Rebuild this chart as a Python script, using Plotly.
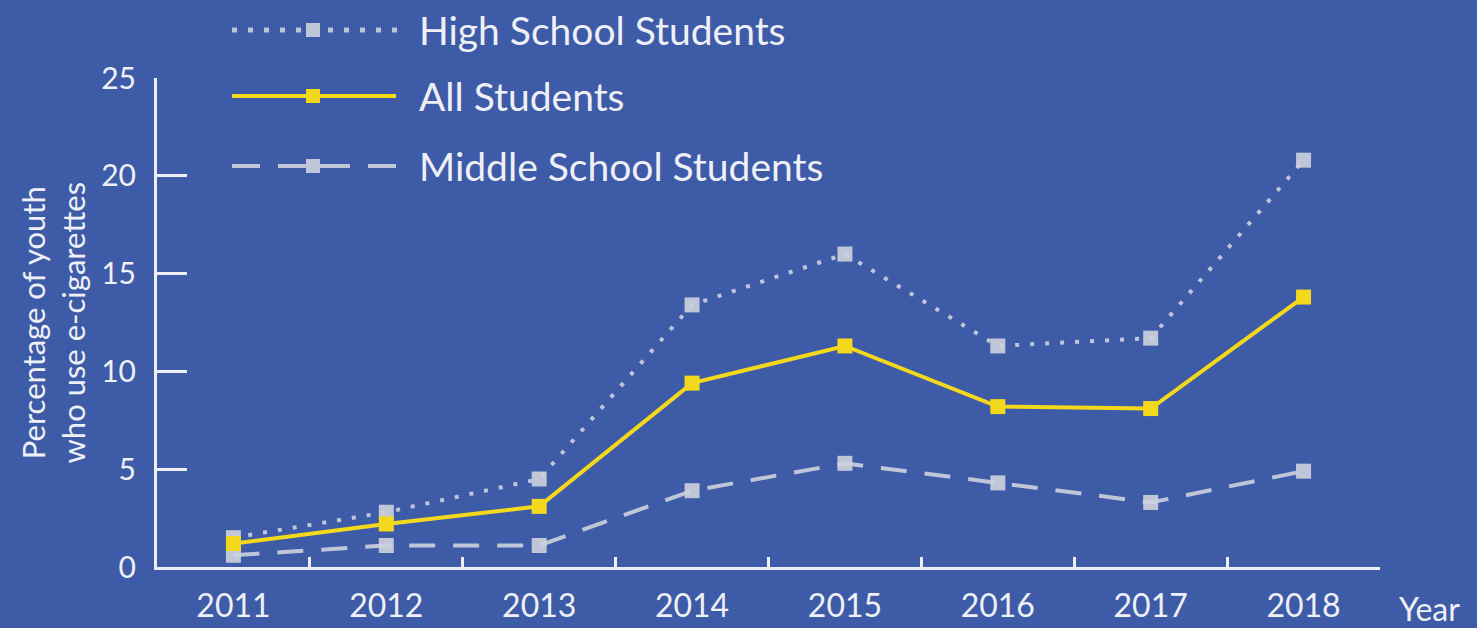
import plotly.graph_objects as go

years = ["2011", "2012", "2013", "2014", "2015", "2016", "2017", "2018"]
high_school = [1.5, 2.8, 4.5, 13.4, 16.0, 11.3, 11.7, 20.8]
all_students = [1.2, 2.2, 3.1, 9.4, 11.3, 8.2, 8.1, 13.8]
middle_school = [0.6, 1.1, 1.1, 3.9, 5.3, 4.3, 3.3, 4.9]
y_ticks = [0, 5, 10, 15, 20, 25]

W, H = 1477, 628
L, R, T, B = 157, 97, 78, 61
BG = "#3e5ba7"
INK = "#eef0f6"
GREY = "rgba(205,210,222,0.9)"
YELLOW = "#f4d81c"
FONT = "Lato, 'Open Sans', sans-serif"


def px(x):
    return (x - L) / (W - L - R)


def py(y):
    return (H - B - y) / (H - T - B)


fig = go.Figure()
fig.add_trace(go.Scatter(
    x=years, y=high_school, mode="lines+markers", name="High School Students",
    line=dict(color=GREY, width=4, dash="4px,11px"),
    marker=dict(symbol="square", size=15, color=GREY),
))
fig.add_trace(go.Scatter(
    x=years, y=middle_school, mode="lines+markers", name="Middle School Students",
    line=dict(color=GREY, width=4, dash="26px,18px"),
    marker=dict(symbol="square", size=15, color=GREY),
))
fig.add_trace(go.Scatter(
    x=years, y=all_students, mode="lines+markers", name="All Students",
    line=dict(color=YELLOW, width=4),
    marker=dict(symbol="square", size=15, color=YELLOW),
))

# Legend drawn by hand: long sample lines with a square in the middle
legend_rows = [
    ("High School Students", 30, GREY, "dot"),
    ("All Students", 96, YELLOW, "solid"),
    ("Middle School Students", 166, GREY, "dash"),
]
shapes = []
annotations = []
for label, yy, col, style in legend_rows:
    if style == "dot":
        x = 232
        while x < 396:
            if abs(x - 313) > 12:
                shapes.append(dict(type="rect", xref="paper", yref="paper",
                                   x0=px(x), x1=px(x + 5), y0=py(yy + 2.5), y1=py(yy - 2.5),
                                   fillcolor=col, line=dict(width=0)))
            x += 16
    elif style == "dash":
        for x0, x1 in [(232, 260), (278, 306), (320, 350), (368, 396)]:
            shapes.append(dict(type="line", xref="paper", yref="paper",
                               x0=px(x0), x1=px(x1), y0=py(yy), y1=py(yy),
                               line=dict(color=col, width=4)))
    else:
        shapes.append(dict(type="line", xref="paper", yref="paper",
                           x0=px(232), x1=px(396), y0=py(yy), y1=py(yy),
                           line=dict(color=col, width=4)))
    shapes.append(dict(type="rect", xref="paper", yref="paper",
                       x0=px(306), x1=px(320), y0=py(yy + 7), y1=py(yy - 7),
                       fillcolor=col, line=dict(width=0)))
    annotations.append(dict(text=label, xref="paper", yref="paper",
                            x=px(417), y=py(yy), xanchor="left", yanchor="middle",
                            showarrow=False, font=dict(size=39, color=INK, family=FONT)))

annotations.append(dict(text="Year", xref="paper", yref="paper",
                        x=px(1397), y=py(608), xanchor="left", yanchor="middle",
                        showarrow=False, font=dict(size=32, color=INK, family=FONT)))
annotations.append(dict(text="Percentage of youth<br>who use e-cigarettes",
                        xref="paper", yref="paper", x=px(52), y=0.5, textangle=-90,
                        xanchor="center", yanchor="middle", showarrow=False,
                        font=dict(size=31, color=INK, family=FONT)))

fig.update_layout(
    width=W, height=H,
    margin=dict(l=L, r=R, t=T, b=B),
    paper_bgcolor=BG, plot_bgcolor=BG,
    showlegend=False,
    font=dict(family=FONT, color=INK),
    shapes=shapes, annotations=annotations,
    xaxis=dict(type="category", range=[-0.5, 7.5], showgrid=False, zeroline=False,
               showline=True, linecolor=INK, linewidth=3, automargin=False,
               ticks="inside", tickson="boundaries", ticklen=10, tickwidth=3,
               tickcolor=INK, tickfont=dict(size=32, color=INK),
               ticklabelstandoff=9),
    yaxis=dict(range=[0, 25], tickvals=y_ticks, showgrid=False, zeroline=False,
               showline=True, linecolor=INK, linewidth=3, automargin=False,
               ticks="inside", ticklen=30, tickwidth=3, tickcolor=INK,
               tickfont=dict(size=30, color=INK), ticklabelstandoff=12),
)

fig.write_html("out.html")
